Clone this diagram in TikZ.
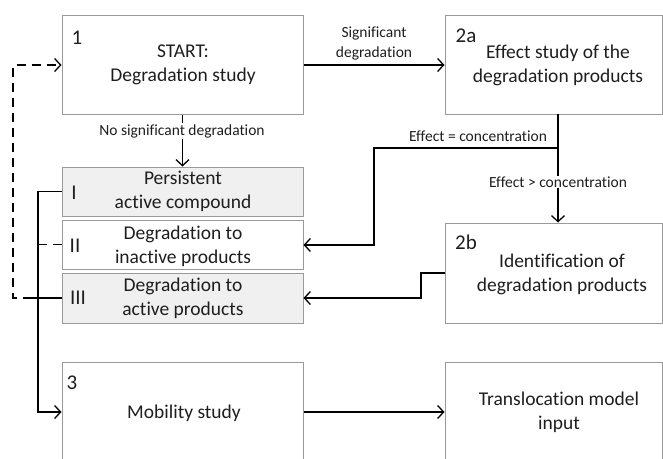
\documentclass[tikz,border=0pt]{standalone}
\usepackage{fontspec}
\setmainfont{Carlito}[Ligatures=NoCommon]
\usetikzlibrary{arrows.meta}
\definecolor{boxline}{HTML}{9A9A9A}
\definecolor{boxfill}{HTML}{F0F0F0}
\definecolor{ink}{HTML}{1E1E1E}
\tikzset{
  box/.style={draw=boxline, line width=1pt, rectangle, inner sep=0pt},
  greybox/.style={box, fill=boxfill},
  boxtext/.style={text=ink, align=center, inner sep=0pt, font=\fontsize{19.5}{24}\selectfont},
  numtext/.style={text=ink, inner sep=0pt, font=\fontsize{21}{24}\selectfont},
  lbl/.style={text=ink, align=center, inner sep=1pt, font=\fontsize{15.5}{20}\selectfont},
  conn/.style={draw=black, line width=1.3pt},
  arr/.style={conn, -{Straight Barb[length=6pt,width=13pt,line width=1.3pt]}},
  dconn/.style={conn, dash pattern=on 9pt off 6pt},
}
\begin{document}
\begin{tikzpicture}[x=1pt,y=-1pt]
\useasboundingbox (0,0) rectangle (663,458);
% boxes
\node[box, minimum width=241pt, minimum height=99pt] (b1) at (182.5,64.5) {};
\node[box, minimum width=217pt, minimum height=99pt] (b2a) at (553.5,64.5) {};
\node[greybox, minimum width=241pt, minimum height=49pt] (bI) at (182.5,191.5) {};
\node[box, minimum width=241pt, minimum height=49pt] (bII) at (182.5,244.5) {};
\node[greybox, minimum width=241pt, minimum height=50pt] (bIII) at (182.5,298) {};
\node[box, minimum width=217pt, minimum height=100pt] (b2b) at (553.5,273) {};
\node[box, minimum width=241pt, minimum height=100pt] (b3) at (182.5,412) {};
\node[box, minimum width=217pt, minimum height=100pt] (b4) at (553.5,412) {};
% numbers
\node[numtext] (n1) at (77,37.5) {1};
\node[numtext] (n2a) at (466,36) {2a};
\node[numtext] (n2b) at (466,242) {2b};
\node[numtext] (n3) at (72,383) {3};
\node[numtext] (nI) at (74,193) {I};
\node[numtext] (nII) at (75,246) {II};
\node[numtext] (nIII) at (78,298) {III};
% box texts
\node[boxtext] (t1) at (183,65) {START:\\Degradation study};
\node[boxtext] (t2a) at (558,65) {Effect study of the\\degradation products};
\node[boxtext] (tI) at (183,191.5) {Persistent\\active compound};
\node[boxtext] (tII) at (183,246.5) {Degradation to\\inactive products};
\node[boxtext] (tIII) at (183,298.5) {Degradation to\\active products};
\node[boxtext] (t2b) at (562,274.5) {Identification of\\degradation products};
\node[boxtext] (t3) at (184,413) {Mobility study};
\node[boxtext] (t4) at (559,412.5) {Translocation model\\input};
% connectors
\coordinate (c2abot) at (558,114);
\coordinate (cbr) at (558,148);
\draw[arr] (b1.east |- 0,65) -- (b2a.west |- 0,65);
\node[lbl] (ls) at (374,43) {Significant\\degradation};
\draw[arr] (b1.south) -- (bI.north);
\node[lbl, fill=white] (lns) at (182,131) {No significant degradation};
\draw[arr] (c2abot) -- (c2abot |- b2b.north);
\node[lbl, fill=white] (lgt) at (558,182) {Effect > concentration};
\draw[arr] (cbr) -- (374,148) -- (374,245) -- (bII.east |- 0,245);
\node[lbl] (leq) at (478,136) {Effect = concentration};
\draw[arr] (b2b.west) -- (421,273) -- (421,298) -- (bIII.east);
\draw[arr] (bI.west) -- (38,191.5) -- (38,412) -- (b3.west);
\draw[dconn] (bII.west) -- (38,244.5);
\draw[dconn, -{Straight Barb[length=6pt,width=13pt,line width=1.3pt]}] (bIII.west) -- (13,298) -- (13,65) -- (b1.west |- 0,65);
\draw[conn] (bIII.west) -- (30,298);
\draw[arr] (b3.east) -- (b4.west);
\end{tikzpicture}
\end{document}
